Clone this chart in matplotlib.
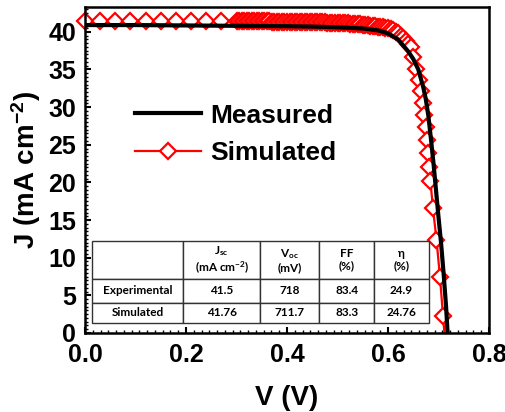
import matplotlib
matplotlib.use("Agg")
import matplotlib.pyplot as plt
from matplotlib.ticker import MultipleLocator, AutoMinorLocator

plt.rcParams["font.family"] = ["Liberation Sans", "DejaVu Sans"]
plt.rcParams["font.weight"] = "bold"
plt.rcParams["mathtext.default"] = "regular"

# Measured J-V curve
meas_v = [0.000, 0.100, 0.200, 0.300, 0.400, 0.450, 0.500, 0.550, 0.580, 0.600,
          0.620, 0.640, 0.650, 0.660, 0.670, 0.675, 0.680, 0.685, 0.690, 0.695,
          0.700, 0.705, 0.710, 0.715, 0.718]
meas_j = [40.9, 40.9, 40.85, 40.8, 40.75, 40.7, 40.6, 40.45, 40.2, 39.8,
          39.0, 37.4, 36.4, 35.0, 32.6, 31.0, 28.8, 25.8, 22.6, 19.0,
          15.4, 12.0, 8.0, 3.5, 0.0]

# Simulated J-V curve
sim_v = [0.00, 0.03, 0.06, 0.09, 0.12, 0.15, 0.18, 0.21, 0.24, 0.27,
         0.300, 0.305, 0.310, 0.315, 0.320, 0.325, 0.330, 0.335, 0.340, 0.345,
         0.350, 0.355, 0.360, 0.365, 0.370, 0.375, 0.380, 0.385, 0.390, 0.395,
         0.400, 0.405, 0.410, 0.415, 0.420, 0.425, 0.430, 0.435, 0.440, 0.445,
         0.450, 0.455, 0.460, 0.465, 0.470, 0.475, 0.480, 0.485, 0.490, 0.495,
         0.500, 0.505, 0.510, 0.515, 0.520, 0.525, 0.530, 0.535, 0.540, 0.545,
         0.550, 0.555, 0.560, 0.565, 0.570, 0.575, 0.580, 0.585, 0.590, 0.595,
         0.600, 0.605, 0.610, 0.615, 0.620, 0.625, 0.630, 0.635, 0.640,
         0.645, 0.650, 0.656, 0.661, 0.665, 0.669, 0.672, 0.675, 0.677, 0.680,
         0.682, 0.684, 0.689, 0.696, 0.703, 0.709, 0.7117]
sim_j = [41.4, 41.4, 41.4, 41.4, 41.4, 41.4, 41.4, 41.4, 41.4, 41.4,
         41.4, 41.4, 41.4, 41.4, 41.4, 41.4, 41.4, 41.4, 41.4, 41.4,
         41.38, 41.38, 41.38, 41.38, 41.37, 41.37, 41.37, 41.36, 41.36, 41.36,
         41.35, 41.35, 41.34, 41.34, 41.33, 41.33, 41.32, 41.32, 41.31, 41.3,
         41.3, 41.29, 41.28, 41.27, 41.26, 41.25, 41.24, 41.23, 41.22, 41.21,
         41.2, 41.18, 41.16, 41.14, 41.12, 41.1, 41.07, 41.04, 41.01, 40.98,
         40.95, 40.92, 40.88, 40.84, 40.8, 40.75, 40.7, 40.65, 40.58, 40.52,
         40.45, 40.35, 40.2, 40.0, 39.8, 39.5, 39.2, 38.8, 38.4,
         38.0, 36.6, 35.0, 33.6, 32.1, 30.6, 29.0, 27.4, 25.7, 23.9,
         22.0, 20.2, 16.6, 12.4, 7.4, 2.2, 0.0]

# Photovoltaic parameters table
param_headers = ["", "J$_{sc}$\n(mA cm$^{-2}$)", "V$_{oc}$\n(mV)", "FF\n(%)", "η\n(%)"]
row_labels = ["Experimental", "Simulated"]
jsc = ["41.5", "41.76"]
voc = ["718", "711.7"]
ff = ["83.4", "83.3"]
eta = ["24.9", "24.76"]

fig = plt.figure(figsize=(5.06, 4.12), dpi=100)
ax = fig.add_axes([85 / 506, 79 / 412, 404 / 506, 326 / 412])

# markers on every simulated point except the open-circuit end point
sim_line, = ax.plot(sim_v, sim_j, color="#ff0000", lw=1.6, marker="D",
                    markersize=8.2, markerfacecolor="white",
                    markeredgecolor="#ff0000", markeredgewidth=1.6,
                    markevery=slice(0, len(sim_v) - 1), clip_on=False,
                    zorder=2, label="Simulated")
meas_line, = ax.plot(meas_v, meas_j, color="black", lw=3.0, zorder=3,
                     label="Measured")

ax.set_xlim(0, 0.8)
ax.set_ylim(0, 43.3)
ax.xaxis.set_major_locator(MultipleLocator(0.2))
ax.xaxis.set_minor_locator(AutoMinorLocator(13))
ax.yaxis.set_major_locator(MultipleLocator(5))
ax.yaxis.set_minor_locator(AutoMinorLocator(10))
ax.xaxis.set_major_formatter(plt.FormatStrFormatter("%.1f"))

for s in ax.spines.values():
    s.set_linewidth(1.8)
ax.tick_params(which="both", direction="in", top=False, right=False,
               labelsize=18)
ax.tick_params(which="major", length=4, width=1.5)
ax.tick_params(which="minor", length=2, width=1.0)
ax.tick_params(axis="x", which="major", pad=7.5)
ax.tick_params(axis="y", which="major", pad=6.5)

ax.set_xlabel("V (V)", fontsize=20, fontweight="bold")
ax.set_ylabel("J (mA cm$^{-2}$)", fontsize=20, fontweight="bold")
ax.xaxis.set_label_coords(0.5, -0.16)
ax.yaxis.set_label_coords(-0.104, 0.5)

leg = ax.legend(handles=[meas_line, sim_line], loc="center left",
                bbox_to_anchor=(0.124, 0.61), frameon=False,
                borderpad=0, borderaxespad=0, handlelength=2.5,
                handletextpad=0.36, labelspacing=0.5,
                prop={"size": 19, "weight": "bold"})

cell_text = [param_headers]
for i, name in enumerate(row_labels):
    cell_text.append([name, jsc[i], voc[i], ff[i], eta[i]])

col_w = [91.6, 76.7, 59.3, 54.7, 55.0]
row_h = [38.6, 23.4, 20.0]
tbl = ax.table(cellText=cell_text, colWidths=[w / sum(col_w) for w in col_w],
               cellLoc="center",
               bbox=[6.7 / 404, 10.3 / 326, 337.3 / 404, 82.0 / 326])
tbl.auto_set_font_size(False)
tbl.set_fontsize(8.5)
for (r, c), cell in tbl.get_celld().items():
    cell.set_height(row_h[r] / sum(row_h))
    cell.set_edgecolor("#333333")
    cell.set_linewidth(1.0)
    cell.get_text().set_fontfamily(["Lato", "DejaVu Sans"])
    cell.get_text().set_fontweight("bold")
    cell.get_text().set_linespacing(1.15)
tbl.set_zorder(4)

fig.savefig("out.png", dpi=100)
